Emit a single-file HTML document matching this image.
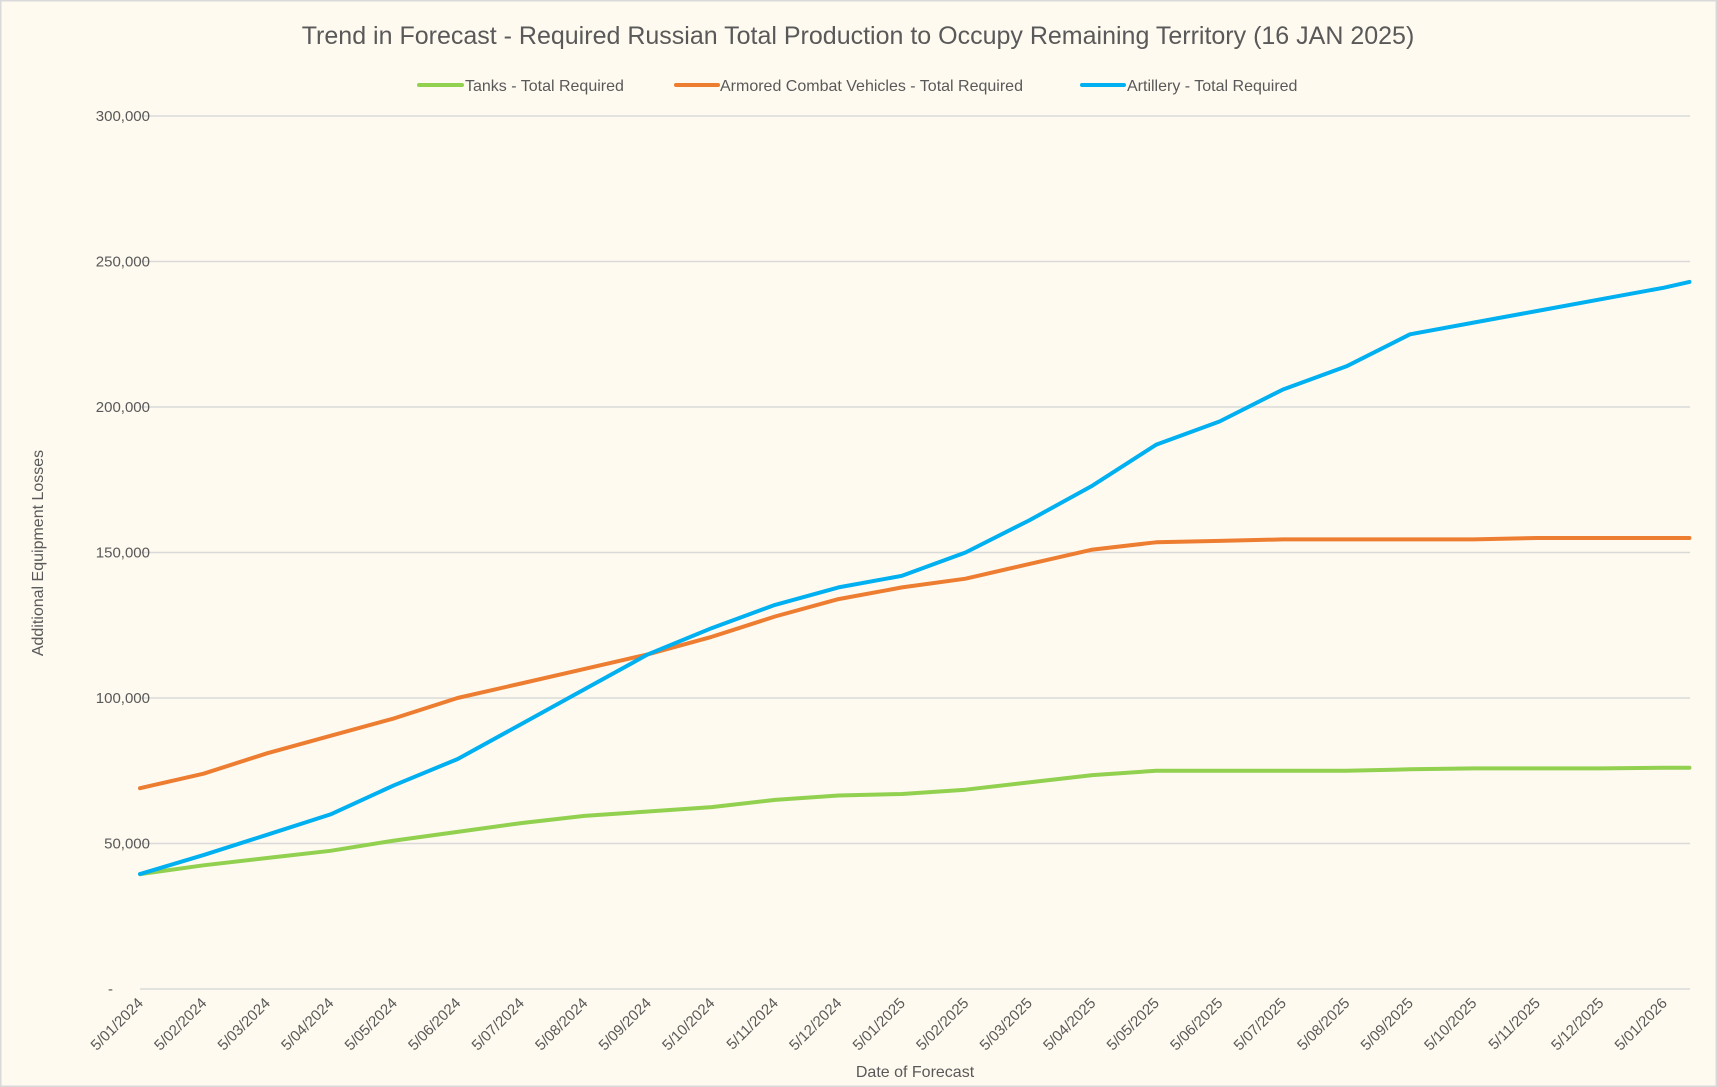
<!DOCTYPE html>
<html><head><meta charset="utf-8"><style>
body{margin:0;background:#fff;}
svg{display:block;font-family:"Liberation Sans",sans-serif;}
</style></head><body>
<svg id="c" width="1717" height="1087" xmlns="http://www.w3.org/2000/svg">
<rect x="0.5" y="0.5" width="1716" height="1086" fill="#fffaf0" stroke="#d9d9d9" stroke-width="2"/>
<text x="858" y="44" text-anchor="middle" font-size="25" fill="#595959">Trend in Forecast - Required Russian Total Production to Occupy Remaining Territory (16 JAN 2025)</text>
<line x1="419" y1="85" x2="462" y2="85" stroke="#92d050" stroke-width="4" stroke-linecap="round"/>
<text x="465" y="91" font-size="16" fill="#595959">Tanks - Total Required</text>
<line x1="676" y1="85" x2="718" y2="85" stroke="#ed7d31" stroke-width="4" stroke-linecap="round"/>
<text x="720" y="91" font-size="16" fill="#595959">Armored Combat Vehicles - Total Required</text>
<line x1="1082" y1="85" x2="1124" y2="85" stroke="#00b0f0" stroke-width="4" stroke-linecap="round"/>
<text x="1127" y="91" font-size="16" fill="#595959">Artillery - Total Required</text>
<g id="grid"></g>
<text transform="translate(43,553) rotate(-90)" text-anchor="middle" font-size="16" fill="#595959">Additional Equipment Losses</text>
<text x="915" y="1077" text-anchor="middle" font-size="16" fill="#595959">Date of Forecast</text>
<g id="series"></g>
</svg>
<script>
var L=140,R=1690,Y0=989,K=873/300;
var ns="http://www.w3.org/2000/svg",g=document.getElementById('grid'),s=document.getElementById('series');
function el(t,a,p,txt){var e=document.createElementNS(ns,t);for(var k in a)e.setAttribute(k,a[k]);if(txt!=null)e.textContent=txt;p.appendChild(e);return e;}
for(var i=0;i<=6;i++){var y=Y0-i*50*K;
 el('line',{x1:L,x2:R,y1:y,y2:y,stroke:'#d9d9d9','stroke-width':1.5},g);
 var lab=i?(i*50)+',000':'-';
 el('text',{x:i?150:113,y:y+5,'text-anchor':'end','font-size':15,fill:'#595959'},g,lab);
}
var mw=63.5;
var months=['01','02','03','04','05','06','07','08','09','10','11','12'];
for(var m=0;m<=24;m++){var x=L+m*mw;var yr=2024+Math.floor(m/12);
 var lab='5/'+months[m%12]+'/'+yr;
 el('text',{transform:'translate('+(x+4)+',1004) rotate(-45)','text-anchor':'end','font-size':15,fill:'#595959'},g,lab);}
var art=[39.5,46,53,60,70,79,91,103,115,124,132,138,142,150,161,173,187,195,206,214,225,229,233,237,241,243];
var acv=[69,74,81,87,93,100,105,110,115,121,128,134,138,141,146,151,153.5,154,154.5,154.5,154.5,154.5,155,155,155,155];
var tnk=[39.5,42.5,45,47.5,51,54,57,59.5,61,62.5,65,66.5,67,68.5,71,73.5,75,75,75,75,75.5,75.8,75.8,75.8,76,76];
function pts(a){var p=[];for(var i=0;i<a.length;i++){var m=i<25?i:24.4;p.push((L+m*mw).toFixed(1)+','+(Y0-a[i]*K).toFixed(1));}return p.join(' ');}
[[tnk,'#92d050'],[acv,'#ed7d31'],[art,'#00b0f0']].forEach(function(d){
 el('polyline',{points:pts(d[0]),fill:'none',stroke:d[1],'stroke-width':4,'stroke-linejoin':'round','stroke-linecap':'round'},s);});
</script>
</body></html>
